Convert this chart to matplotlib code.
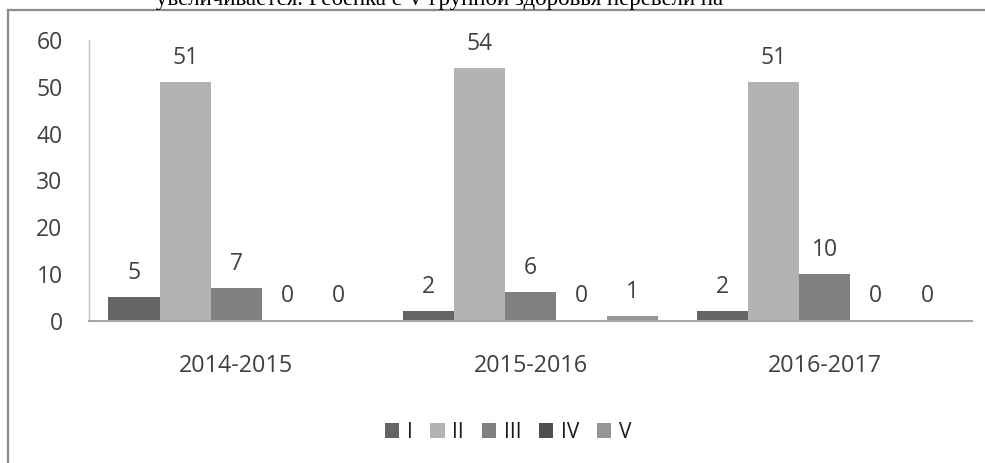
import matplotlib
matplotlib.use("Agg")
import matplotlib.pyplot as plt
import numpy as np
from matplotlib.lines import Line2D

periods = ["2014-2015", "2015-2016", "2016-2017"]
groups = ["I", "II", "III", "IV", "V"]
values = {
    "I": [5, 2, 2],
    "II": [51, 54, 51],
    "III": [7, 6, 10],
    "IV": [0, 0, 0],
    "V": [0, 1, 0],
}
colors = ["#646464", "#b3b3b3", "#808080", "#4f4f4f", "#969696"]
yticks = [0, 10, 20, 30, 40, 50, 60]
top_text = "увеличивается. Ребенка с V группой здоровья перевели на"

FONT = "Open Sans"
TXT = "#404040"
FS = 16.5

W, H = 985, 463
fig = plt.figure(figsize=(W / 100, H / 100), dpi=100)
ax = fig.add_axes([89 / W, 1 - 320.5 / H, (972 - 89) / W, (320.5 - 40) / H])

x = np.arange(len(periods))
bw = 0.1735
for i, g in enumerate(groups):
    pos = x + (i - 2) * bw
    ax.bar(pos, values[g], width=bw, color=colors[i], label=g, zorder=2)
    for xp, v in zip(pos, values[g]):
        ax.annotate(str(v), (xp, v), xytext=(0, 13), textcoords="offset points",
                    ha="center", va="baseline", fontsize=FS, family=FONT, color=TXT)

ax.set_xlim(-0.5, 2.5)
ax.set_ylim(0, 60)
ax.set_yticks(yticks)
ax.set_yticklabels([str(t) for t in yticks], fontsize=FS, family=FONT, color=TXT)
ax.set_xticks(x)
ax.set_xticklabels(periods, fontsize=16.8, family=FONT, color=TXT)
ax.tick_params(axis="y", length=0, pad=19)
ax.tick_params(axis="x", length=0, pad=24)
for s in ["top", "right"]:
    ax.spines[s].set_visible(False)
ax.spines["left"].set_color("#c0c0c0")
ax.spines["left"].set_linewidth(1.0)
ax.spines["bottom"].set_color("#a6a6a6")
ax.spines["bottom"].set_linewidth(1.5)
ax.spines["bottom"].set_zorder(3)

leg = fig.legend(loc="center", bbox_to_anchor=(508 / W, 1 - 432 / H), ncol=5,
                 frameon=False, handlelength=0.7, handleheight=0.7,
                 handletextpad=0.35, columnspacing=0.85,
                 prop={"family": FONT, "size": 15})
for t in leg.get_texts():
    t.set_color("#1a1a1a")

# outer frame of the embedded chart (left and top edges visible)
fig.add_artist(Line2D([8 / W, 8 / W], [0, 1 - 10 / H], transform=fig.transFigure,
                      color="#8c8c8c", linewidth=1.6))
fig.add_artist(Line2D([8 / W, 1], [1 - 10 / H, 1 - 10 / H], transform=fig.transFigure,
                      color="#8c8c8c", linewidth=1.6))

# clipped line of document text above the chart (cut off in the reference too)
fig.text(440 / W, 1 - 4.5 / H, top_text, ha="center", va="baseline",
         fontsize=16.5, family="Liberation Serif", color="black")

fig.savefig("out.png", dpi=100)
